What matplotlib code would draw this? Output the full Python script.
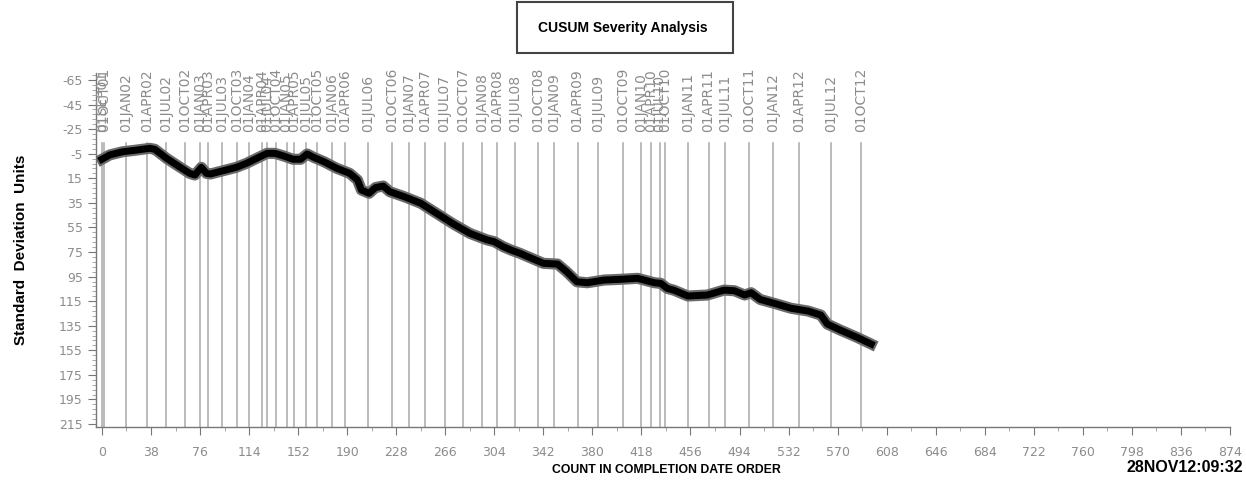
import matplotlib
matplotlib.use("Agg")
import matplotlib.pyplot as plt
import matplotlib.patheffects as pe
from matplotlib.patches import Rectangle
from matplotlib.ticker import MultipleLocator, AutoMinorLocator

plt.rcParams["axes.unicode_minus"] = False

# --------------------------------------------------
# data
# --------------------------------------------------
ref_labels = [
    "01SEP01", "01OCT01", "01JAN02", "01APR02", "01JUL02", "01OCT02",
    "01JAN03", "01APR03", "01JUL03", "01OCT03", "01JAN04", "01APR04",
    "01JUL04", "01OCT04", "01JAN05", "01APR05", "01JUL05", "01OCT05",
    "01JAN06", "01APR06", "01JUL06", "01OCT06", "01JAN07", "01APR07",
    "01JUL07", "01OCT07", "01JAN08", "01APR08", "01JUL08", "01OCT08",
    "01JAN09", "01APR09", "01JUL09", "01OCT09", "01JAN10", "01APR10",
    "01JUL10", "01OCT10", "01JAN11", "01APR11", "01JUL11", "01OCT11",
    "01JAN12", "01APR12", "01JUL12", "01OCT12",
]
ref_counts = [
    0, 1.5, 19, 35, 50, 64.5,
    76, 82, 93, 105, 114, 124,
    128, 135, 143, 149, 158, 166.5,
    178, 188.5, 206, 224.5, 238, 250.5,
    265.5, 280, 294.5, 306, 320, 338,
    350.5, 368.5, 384.5, 403.5, 418, 425.5,
    432, 436.5, 454, 470, 483, 501.5,
    520, 540, 565, 588,
]

cusum_x = [
    0, 6, 16, 27, 37, 41, 50, 60, 68, 72, 77, 81, 84, 94, 104, 112,
    120, 128, 134, 141, 148, 154, 159, 164, 172, 182, 192, 198, 201, 207,
    212, 218, 223, 234, 247, 260, 272, 285, 298, 304, 311, 317, 324, 330,
    342, 353, 360, 368, 376, 389, 402, 415, 428, 433, 438, 443, 454, 469,
    482, 490, 498, 503, 510, 521, 534, 547, 557, 562, 572, 585, 596,
]
cusum_y = [
    -0.5, -4, -6.6, -8, -9.4, -8.6, -1.3, 5.6, 11, 12.3, 6.1, 11, 11.5, 8.8,
    6.1, 2.8, -1.3, -5.3, -5.3, -3.1, -0.5, -0.5, -4.8, -2.1, 1.5, 6.9, 11,
    16.4, 24.5, 27.2, 22.5, 21.3, 25.9, 29.9, 35.3, 44, 52, 59.8, 65, 66.6,
    70.7, 73.4, 76.1, 78.8, 84.2, 84.8, 91, 99.2, 100, 97.8, 97.2, 96.4, 100,
    100.5, 104.6, 106, 110.8, 110, 106, 106.5, 110, 108.1, 113.6, 116.8,
    120.8, 123, 126.3, 133.6, 138.5, 144.4, 149.9,
]

x_ticks = list(range(0, 875, 38))
y_ticks = list(range(-65, 216, 20))

GRAY = "#8c8c8c"
bold_fam = ["Liberation Sans", "DejaVu Sans"]

# --------------------------------------------------
# figure
# --------------------------------------------------
fig = plt.figure(figsize=(12.46, 4.87), dpi=100)
ax = fig.add_axes([96 / 1246, 60 / 487, 1134 / 1246, 354 / 487])

ax.set_xlim(-4.6, 874)
ax.set_ylim(217.4, -70.7)

# reference date lines with rotated labels
for cnt, lab in zip(ref_counts, ref_labels):
    ax.plot([cnt, cnt], [-13.7, 217.4], color="#a8a8a8", lw=1.1, zorder=1)
    ax.text(cnt, -22.7, lab, rotation=90, ha="center", va="bottom",
            fontsize=10, color=GRAY, clip_on=False)

# CUSUM curve
ax.plot(cusum_x, cusum_y, color="black", lw=5, solid_joinstyle="round",
        zorder=3,
        path_effects=[pe.Stroke(linewidth=8, foreground="#6a6a6a"), pe.Normal()])

# axes styling
for side in ("top", "right"):
    ax.spines[side].set_visible(False)
for side in ("left", "bottom"):
    ax.spines[side].set_color("#777777")
    ax.spines[side].set_linewidth(1.0)

ax.set_xticks(x_ticks)
ax.set_yticks(y_ticks)
ax.xaxis.set_minor_locator(MultipleLocator(19))
ax.yaxis.set_minor_locator(AutoMinorLocator(5))
ax.tick_params(axis="both", which="major", length=6, color="#777777",
               labelcolor=GRAY, labelsize=9)
ax.tick_params(axis="both", which="minor", length=3, color="#999999")
ax.tick_params(axis="x", pad=8)

ax.set_ylabel("Standard  Deviation  Units", fontsize=11, fontweight="bold",
              family=bold_fam)
ax.yaxis.set_label_coords(-68 / 1134, 0.5)

fig.text(666 / 1246, 1 - 470 / 487, "COUNT IN COMPLETION DATE ORDER",
         ha="center", va="center", fontsize=8.8, fontweight="bold",
         family=bold_fam)
fig.text(1243 / 1246, 1 - 468 / 487, "28NOV12:09:32", ha="right",
         va="center", fontsize=11.5, fontweight="bold", family=bold_fam)

# boxed title
fig.add_artist(Rectangle((517 / 1246, 1 - 53 / 487), 216 / 1246, 51 / 487,
                         transform=fig.transFigure, fill=False,
                         edgecolor="#444444", lw=1.5))
fig.text(623 / 1246, 1 - 28 / 487, "CUSUM Severity Analysis", ha="center",
         va="center", fontsize=10, fontweight="bold", family=bold_fam)

fig.savefig("out.png", dpi=100, facecolor="white")
